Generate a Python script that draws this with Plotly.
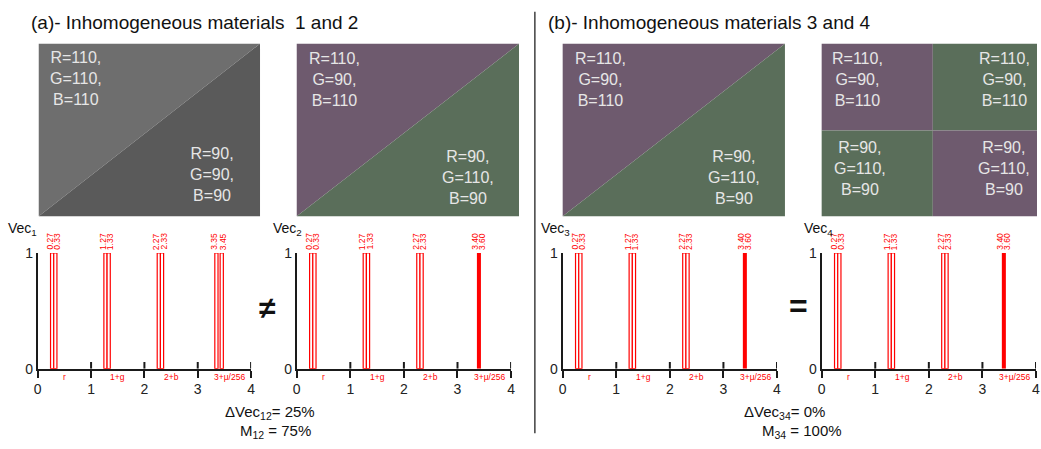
import plotly.graph_objects as go

W, H = 1041, 449
FONT = "Arial, Liberation Sans, sans-serif"

# ---------------- data ----------------
categories = ["r", "1+g", "2+b", "3+μ/256"]
category_pos = [0.5, 1.5, 2.5, 3.6]
x_ticks = [0, 1, 2, 3, 4]
y_ticks = [0, 1]

vec1_values = [0.27, 0.33, 1.27, 1.33, 2.27, 2.33, 3.35, 3.45]
vec1_labels = ["0.27", "0.33", "1.27", "1.33", "2.27", "2.33", "3.35", "3.45"]
vec1_label_pos = vec1_values

vec2_values = [0.27, 0.33, 1.27, 1.33, 2.27, 2.33]
vec2_solid = [3.40]
vec2_labels = ["0.27", "0.33", "1.27", "1.33", "2.27", "2.33", "3.40", "3.60"]
vec2_label_pos = [0.27, 0.33, 1.27, 1.33, 2.27, 2.33, 3.37, 3.43]

vec3_values = vec2_values
vec3_solid = vec2_solid
vec4_values = vec2_values
vec4_solid = vec2_solid

heights = 1

# chart pixel boxes (left, right) and common vertical
chart_x = [(34, 249), (295, 511), (563, 779), (824, 1040)]
chart_y = (254, 374)

def px(x, y):
    return x / W, 1 - y / H

fig = go.Figure()
layout = dict(width=W, height=H, margin=dict(l=0, r=0, t=0, b=0),
              paper_bgcolor="white", plot_bgcolor="white",
              showlegend=False, barmode="overlay", font=dict(family=FONT))

charts = [
    (vec1_values, [], vec1_labels, vec1_label_pos, "1"),
    (vec2_values, vec2_solid, vec2_labels, vec2_label_pos, "2"),
    (vec3_values, vec3_solid, vec2_labels, vec2_label_pos, "3"),
    (vec4_values, vec4_solid, vec2_labels, vec2_label_pos, "4"),
]
annotations = []
shapes = []

for i, (vals, solid, labels, lpos, num) in enumerate(charts):
    k = "" if i == 0 else str(i + 1)
    xa, ya = "x" + k, "y" + k
    x0, x1 = chart_x[i]
    layout["xaxis" + k] = dict(domain=[x0 / W, x1 / W], range=[0, 4], anchor=ya,
                               showgrid=False, zeroline=False, showline=True,
                               linecolor="#1a1a1a", linewidth=2,
                               ticks="outside", ticklen=7, tickwidth=2, tickcolor="#1a1a1a",
                               tickvals=x_ticks, ticktext=[str(t) for t in x_ticks],
                               tickfont=dict(size=14, color="#222"), fixedrange=True)
    layout["yaxis" + k] = dict(domain=[1 - chart_y[1] / H, 1 - chart_y[0] / H],
                               range=[0, 1], anchor=xa, showgrid=False, zeroline=False,
                               showline=True, linecolor="#1a1a1a", linewidth=2,
                               ticks="", tickvals=y_ticks, ticktext=[str(t) for t in y_ticks],
                               tickfont=dict(size=14, color="#222"), fixedrange=True)
    # outlined bars
    fig.add_trace(go.Bar(x=vals, y=[heights] * len(vals), width=0.06,
                         marker=dict(color="white", line=dict(color="red", width=1.2)),
                         xaxis=xa, yaxis=ya, hoverinfo="skip"))
    if solid:
        fig.add_trace(go.Bar(x=solid, y=[heights] * len(solid), width=0.075,
                             marker=dict(color="red", line=dict(width=0)),
                             xaxis=xa, yaxis=ya, hoverinfo="skip"))
    # inner half of crossing ticks
    for t in x_ticks[1:]:
        fig.add_trace(go.Scatter(x=[t, t], y=[0, 0.058], mode="lines",
                                 line=dict(color="#1a1a1a", width=2),
                                 xaxis=xa, yaxis=ya, hoverinfo="skip"))
    # value labels (pairs pushed slightly apart)
    for j, (v, lab) in enumerate(zip(lpos, labels)):
        annotations.append(dict(x=v, y=1, xref=xa, yref=ya, text=lab, showarrow=False,
                                textangle=-90, yanchor="bottom", xanchor="center",
                                xshift=-2 if j % 2 == 0 else 2, yshift=1,
                                font=dict(size=8.5, color="red")))
    # category labels
    for c, cp in zip(categories, category_pos):
        annotations.append(dict(x=cp, y=0, xref=xa, yref=ya, text=c, showarrow=False,
                                yanchor="top", xanchor="center", yshift=-1,
                                font=dict(size=8.5, color="red")))
    # Vec label
    vx = [2, 269, 539, 804][i]
    ax, ay = px(vx, 229)
    annotations.append(dict(x=ax, y=ay, xref="paper", yref="paper",
                            text="Vec<sub>%s</sub>" % num, showarrow=False,
                            xanchor="left", yanchor="middle",
                            font=dict(size=14, color="#111")))

# ---------------- colour panels ----------------
GRAY_L = "rgb(110,110,110)"
GRAY_D = "rgb(90,90,90)"
PURP = "rgb(110,90,110)"
GREEN = "rgb(90,110,90)"
ptop, pbot = 37, 216

def tri_path(pts):
    s = ""
    for j, (x, y) in enumerate(pts):
        X, Y = px(x, y)
        s += ("M" if j == 0 else "L") + "%f,%f " % (X, Y)
    return s + "Z"

def diag_panel(l, r, c_up, c_low):
    shapes.append(dict(type="path", xref="paper", yref="paper", layer="below",
                       path=tri_path([(l, ptop), (r, ptop), (l, pbot)]),
                       fillcolor=c_up, line=dict(width=0)))
    shapes.append(dict(type="path", xref="paper", yref="paper", layer="below",
                       path=tri_path([(r, ptop), (r, pbot), (l, pbot)]),
                       fillcolor=c_low, line=dict(width=0)))

def rect(l, t, r, b, c):
    X0, Y0 = px(l, b)
    X1, Y1 = px(r, t)
    shapes.append(dict(type="rect", xref="paper", yref="paper", layer="below",
                       x0=X0, y0=Y0, x1=X1, y1=Y1, fillcolor=c, line=dict(width=0)))

diag_panel(35, 258, GRAY_L, GRAY_D)
diag_panel(295, 519, PURP, GREEN)
diag_panel(563, 787, PURP, GREEN)
rect(824, ptop, 936, 127, PURP)
rect(936, ptop, 1041, 127, GREEN)
rect(824, 127, 936, pbot, GREEN)
rect(936, 127, 1041, pbot, PURP)

def ptext(x, y, txt):
    X, Y = px(x, y)
    annotations.append(dict(x=X, y=Y, xref="paper", yref="paper", text=txt,
                            showarrow=False, align="center", xanchor="center",
                            yanchor="middle", font=dict(size=16, color="#e6e6e6")))

ptext(73, 73, "R=110,<br>G=110,<br>B=110")
ptext(210, 173, "R=90,<br>G=90,<br>B=90")
ptext(333, 74, "R=110,<br>G=90,<br>B=110")
ptext(468, 176, "R=90,<br>G=110,<br>B=90")
ptext(601, 74, "R=110,<br>G=90,<br>B=110")
ptext(736, 176, "R=90,<br>G=110,<br>B=90")
ptext(860, 74, "R=110,<br>G=90,<br>B=110")
ptext(1008, 74, "R=110,<br>G=90,<br>B=110")
ptext(863, 166, "R=90,<br>G=110,<br>B=90")
ptext(1008, 166, "R=90,<br>G=110,<br>B=90")

# ---------------- titles, divider, symbols, footers ----------------
def ftext(x, y, txt, size, anchor="left", color="#111"):
    X, Y = px(x, y)
    annotations.append(dict(x=X, y=Y, xref="paper", yref="paper", text=txt,
                            showarrow=False, xanchor=anchor, yanchor="middle",
                            align="left", font=dict(size=size, color=color)))

ftext(25, 15, "(a)- Inhomogeneous materials  1 and 2", 19)
ftext(546, 15, "(b)- Inhomogeneous materials 3 and 4", 19)
ftext(266, 311, "<b>≠</b>", 30, "center")
ftext(801, 309, "<b>=</b>", 32, "center")
ftext(221, 419, "ΔVec<sub>12</sub>= 25%", 15)
ftext(236, 439, "M<sub>12</sub> = 75%", 15)
ftext(744, 419, "ΔVec<sub>34</sub>= 0%", 15)
ftext(762, 439, "M<sub>34</sub> = 100%", 15)

lx, ly0 = px(535, 4)
_, ly1 = px(535, 441)
shapes.append(dict(type="line", xref="paper", yref="paper", x0=lx, x1=lx,
                   y0=ly1, y1=ly0, line=dict(color="#111", width=1.2)))

layout["annotations"] = annotations
layout["shapes"] = shapes
fig.update_layout(**layout)
fig.write_html("out.html", config={"displayModeBar": False},
               post_script="document.body.style.margin='0';document.body.style.overflow='hidden';")
